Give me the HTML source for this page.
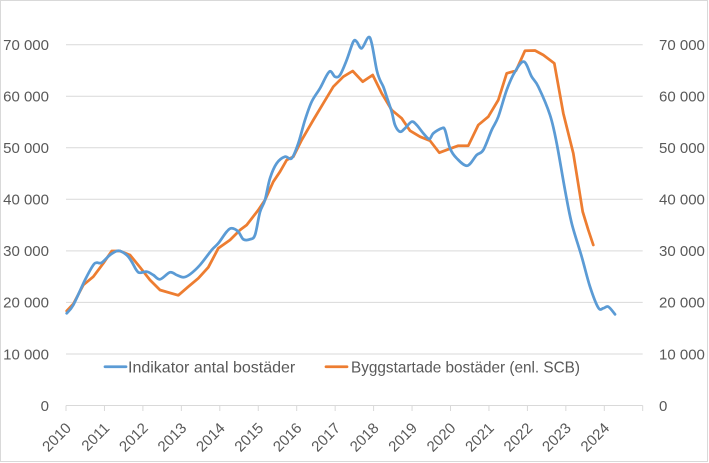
<!DOCTYPE html>
<html>
<head>
<meta charset="utf-8">
<style>
html,body{margin:0;padding:0;background:#fff;}
svg{display:block;}
text{font-family:"Liberation Sans",Arial,sans-serif;font-size:15px;fill:#595959;}
text.lg{font-size:16px;}
</style>
</head>
<body>
<svg width="709" height="463" viewBox="0 0 709 463" xmlns="http://www.w3.org/2000/svg">
<rect x="0.5" y="0.5" width="707" height="461" fill="#fff" stroke="#d9d9d9" stroke-width="1"/>
<g stroke="#d9d9d9" stroke-width="1">
<line x1="66" y1="44.7" x2="642.7" y2="44.7"/>
<line x1="66" y1="96.2" x2="642.7" y2="96.2"/>
<line x1="66" y1="147.8" x2="642.7" y2="147.8"/>
<line x1="66" y1="199.3" x2="642.7" y2="199.3"/>
<line x1="66" y1="250.9" x2="642.7" y2="250.9"/>
<line x1="66" y1="302.4" x2="642.7" y2="302.4"/>
<line x1="66" y1="354" x2="642.7" y2="354"/>
<line x1="66" y1="405.5" x2="642.7" y2="405.5"/>
<line x1="66" y1="405.5" x2="66" y2="411"/>
<line x1="104.45" y1="405.5" x2="104.45" y2="411"/>
<line x1="142.9" y1="405.5" x2="142.9" y2="411"/>
<line x1="181.35" y1="405.5" x2="181.35" y2="411"/>
<line x1="219.8" y1="405.5" x2="219.8" y2="411"/>
<line x1="258.25" y1="405.5" x2="258.25" y2="411"/>
<line x1="296.7" y1="405.5" x2="296.7" y2="411"/>
<line x1="335.15" y1="405.5" x2="335.15" y2="411"/>
<line x1="373.6" y1="405.5" x2="373.6" y2="411"/>
<line x1="412.05" y1="405.5" x2="412.05" y2="411"/>
<line x1="450.5" y1="405.5" x2="450.5" y2="411"/>
<line x1="488.95" y1="405.5" x2="488.95" y2="411"/>
<line x1="527.4" y1="405.5" x2="527.4" y2="411"/>
<line x1="565.85" y1="405.5" x2="565.85" y2="411"/>
<line x1="604.3" y1="405.5" x2="604.3" y2="411"/>
<line x1="642.7" y1="405.5" x2="642.7" y2="411"/>
</g>
<g text-anchor="end">
<text x="49" y="50">70 000</text>
<text x="49" y="101.5">60 000</text>
<text x="49" y="153.1">50 000</text>
<text x="49" y="204.6">40 000</text>
<text x="49" y="256.2">30 000</text>
<text x="49" y="307.7">20 000</text>
<text x="49" y="359.3">10 000</text>
<text x="49" y="410.8">0</text>
</g>
<g text-anchor="start">
<text x="659" y="50">70 000</text>
<text x="659" y="101.5">60 000</text>
<text x="659" y="153.1">50 000</text>
<text x="659" y="204.6">40 000</text>
<text x="659" y="256.2">30 000</text>
<text x="659" y="307.7">20 000</text>
<text x="659" y="359.3">10 000</text>
<text x="659" y="410.8">0</text>
</g>
<g text-anchor="end">
<text transform="translate(72,429) rotate(-45)">2010</text>
<text transform="translate(110.45,429) rotate(-45)">2011</text>
<text transform="translate(148.9,429) rotate(-45)">2012</text>
<text transform="translate(187.35,429) rotate(-45)">2013</text>
<text transform="translate(225.8,429) rotate(-45)">2014</text>
<text transform="translate(264.25,429) rotate(-45)">2015</text>
<text transform="translate(302.7,429) rotate(-45)">2016</text>
<text transform="translate(341.15,429) rotate(-45)">2017</text>
<text transform="translate(379.6,429) rotate(-45)">2018</text>
<text transform="translate(418.05,429) rotate(-45)">2019</text>
<text transform="translate(456.5,429) rotate(-45)">2020</text>
<text transform="translate(494.95,429) rotate(-45)">2021</text>
<text transform="translate(533.4,429) rotate(-45)">2022</text>
<text transform="translate(571.85,429) rotate(-45)">2023</text>
<text transform="translate(610.3,429) rotate(-45)">2024</text>
</g>
<polyline fill="none" stroke="#ED7D31" stroke-width="2.75" stroke-linejoin="round" stroke-linecap="round" points="66.7,311 73.3,304 83.3,285 93.3,276.7 103.3,263.3 111.7,251 120,251 130,255 140,267.3 150,280 160,290 178.3,295.3 188.3,286.7 198.3,278.3 208.3,267.3 218.3,248.3 230,240 240,230 246.7,225 258.3,210 265,200 273.3,181.7 280,171.7 286.7,160 293.3,156.7 301.7,140 313.3,120 323.3,103.3 333.3,86.7 343.3,76.7 352.7,71 362.7,81.7 372.7,75 381.7,93.3 391.7,110 401.7,118.3 410,130.7 420,136.7 430,140.7 439.3,152.7 448.3,149.3 458.3,145.7 468.3,145.7 478.3,125 488.3,116.7 498.3,100 506.7,73.3 516,70.7 525,50.7 535,50.5 543.3,55 554.3,63.3 563.3,113.3 573.3,153.3 582.7,211.7 588.3,230 593.3,245"/>
<polyline id="blue" fill="none" stroke="#5B9BD5" stroke-width="2.75" stroke-linejoin="round" stroke-linecap="round" points="66.7,313.3 73.3,305 85,280 93.3,265 96.7,262.7 101.7,262.7 110,255 118.3,250.7 126.7,255 131.7,261.7 138.3,272.3 146.7,271.7 153.3,275 160,279.3 170,272.3 176.7,275 183.3,277.3 190,274.3 200,265 211.7,250 218.3,243.3 226.7,231.7 231.7,228.3 238.3,231.7 243.3,239.3 250,239.3 255,235 260,212 265,200 270,178.3 276.7,163.3 285,156.7 291.7,158.3 298.3,143.3 305,120 311.7,101.7 320,88.3 329.3,71.7 335,76.7 340,75 346.7,60 353.3,41.7 356.7,41.7 361.7,48.3 368.3,37.3 371.7,43.3 376.7,70 380,80 383.3,86.7 386.7,96.7 391.7,111.7 395,125 400,131.7 405,128.3 411.7,121.7 416.7,125 423.3,133.3 429.3,139 433.3,133.3 441.7,128.3 445,130 450,148.3 456.7,158.3 467.3,165.7 476.7,155 483.3,150 491.7,130 498.3,116.7 506.7,90 515,71.7 524,61.7 531.7,76.7 538.3,86.7 550,115 556.7,143.3 565,190 571.7,223.3 581.7,256.7 590,286.7 598.3,307.7 603.3,308.3 608.3,306.7 615,314.3"/>
<line x1="105" y1="366.7" x2="126" y2="366.7" stroke="#5B9BD5" stroke-width="2.75" stroke-linecap="round"/>
<text class="lg" x="128" y="372.5">Indikator antal bostäder</text>
<line x1="326" y1="366.7" x2="347" y2="366.7" stroke="#ED7D31" stroke-width="2.75" stroke-linecap="round"/>
<text class="lg" x="351" y="372.5" textLength="229" lengthAdjust="spacingAndGlyphs">Byggstartade bostäder (enl. SCB)</text>
</svg>
<script>
(function(){
  var pl=document.getElementById('blue');
  if(!pl) return;
  var pts=pl.getAttribute('points').trim().split(/\s+/).map(function(s){var a=s.split(',');return [parseFloat(a[0]),parseFloat(a[1])];});
  var d='M'+pts[0][0]+','+pts[0][1];
  var t=0.5/3;
  for(var i=0;i<pts.length-1;i++){
    var p0=pts[i-1]||pts[i],p1=pts[i],p2=pts[i+1],p3=pts[i+2]||pts[i+1];
    var c1x=p1[0]+(p2[0]-p0[0])*t,c1y=p1[1]+(p2[1]-p0[1])*t;
    var c2x=p2[0]-(p3[0]-p1[0])*t,c2y=p2[1]-(p3[1]-p1[1])*t;
    d+=' C'+c1x.toFixed(2)+','+c1y.toFixed(2)+' '+c2x.toFixed(2)+','+c2y.toFixed(2)+' '+p2[0]+','+p2[1];
  }
  var path=document.createElementNS('http://www.w3.org/2000/svg','path');
  path.setAttribute('d',d);
  path.setAttribute('fill','none');
  path.setAttribute('stroke','#5B9BD5');
  path.setAttribute('stroke-width','2.75');
  path.setAttribute('stroke-linejoin','round');
  path.setAttribute('stroke-linecap','round');
  pl.parentNode.replaceChild(path,pl);
})();
</script>
</body>
</html>
